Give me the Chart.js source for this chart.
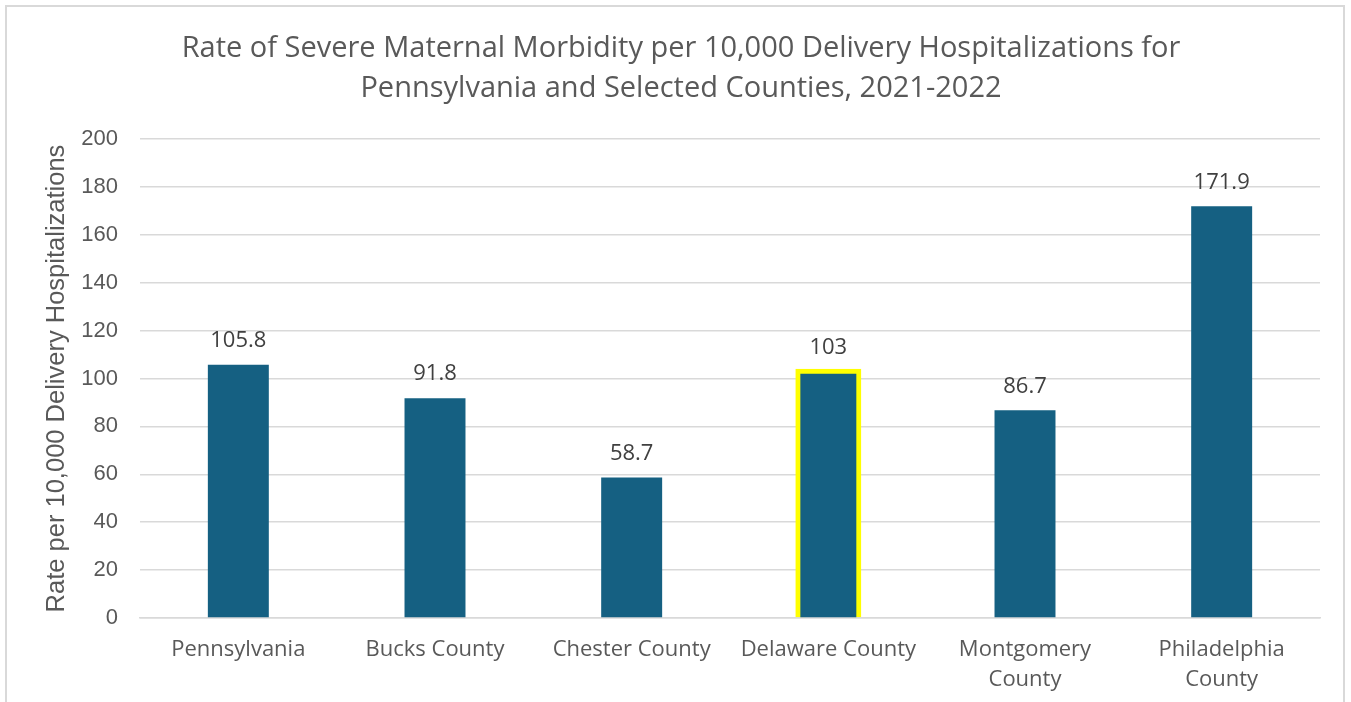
<!DOCTYPE html>
<html>
<head>
<meta charset="utf-8">
<script src="https://cdn.jsdelivr.net/npm/chart.js@4.4.1/dist/chart.umd.min.js"></script>
<style>
  html, body { margin: 0; padding: 0; background: #fff; }
  #frame {
    position: absolute; left: 5px; top: 5px; width: 1340px; height: 720px;
    border: 2px solid #d9d9d9; box-sizing: border-box;
  }
  #wrap { position: absolute; left: 0; top: 0; width: 1351px; height: 702px; }
</style>
</head>
<body>
<div id="frame"></div>
<div id="wrap"><canvas id="smmChart" width="1351" height="702"></canvas></div>
<script>
  const categories = [
    'Pennsylvania',
    'Bucks County',
    'Chester County',
    'Delaware County',
    ['Montgomery', 'County'],
    ['Philadelphia', 'County']
  ];
  const rates = [105.8, 91.8, 58.7, 103, 86.7, 171.9];
  const highlightIndex = 3; // Delaware County gets the yellow outline

  const titleLines = [
    'Rate of Severe Maternal Morbidity per 10,000 Delivery Hospitalizations for',
    'Pennsylvania and Selected Counties, 2021-2022'
  ];
  const yTitle = 'Rate per 10,000 Delivery Hospitalizations';

  const barBlue = '#156082';
  const textGray = '#595959';

  // simple value labels above each bar
  const valueLabels = {
    id: 'valueLabels',
    afterDatasetsDraw(chart) {
      const c = chart.ctx;
      const meta = chart.getDatasetMeta(0);
      c.save();
      c.font = '22px "Open Sans", sans-serif';
      c.fillStyle = '#404040';
      c.textAlign = 'center';
      c.textBaseline = 'middle';
      meta.data.forEach((bar, i) => {
        c.fillText(String(rates[i]), bar.x, bar.y - 24);
      });
      c.restore();
    }
  };

  const ctx = document.getElementById('smmChart').getContext('2d');
  new Chart(ctx, {
    type: 'bar',
    data: {
      labels: categories,
      datasets: [{
        data: rates,
        backgroundColor: barBlue,
        borderColor: c => c.dataIndex === highlightIndex ? '#ffff00' : barBlue,
        borderWidth: c => c.dataIndex === highlightIndex ? 5 : 0,
        inflateAmount: c => c.dataIndex === highlightIndex ? 2.5 : 'auto',
        barPercentage: 0.62,
        categoryPercentage: 0.5
      }]
    },
    options: {
      responsive: false,
      animation: false,
      layout: { padding: { left: 42, right: 31, top: 29, bottom: 0 } },
      plugins: {
        legend: { display: false },
        tooltip: { enabled: false },
        title: {
          display: true,
          text: titleLines,
          color: textGray,
          font: { family: '"Open Sans", sans-serif', size: 29, weight: 'normal', lineHeight: 1.38 },
          padding: { top: 0, bottom: 30 }
        }
      },
      scales: {
        x: {
          afterFit: s => { s.height = 84; },
          grid: { display: false, drawTicks: false },
          border: { color: '#d9d9d9', width: 1.5 },
          ticks: {
            color: textGray,
            font: { family: '"Open Sans", sans-serif', size: 22, lineHeight: 1.36 },
            padding: 17,
            maxRotation: 0,
            autoSkip: false
          }
        },
        y: {
          min: 0,
          max: 200,
          afterFit: s => { s.width = 98; },
          ticks: {
            stepSize: 20,
            color: textGray,
            font: { family: '"Liberation Sans", Arial, sans-serif', size: 22 },
            padding: 22
          },
          grid: { color: '#d9d9d9', lineWidth: 1.5, drawTicks: false },
          border: { display: false },
          title: {
            display: true,
            text: yTitle,
            color: textGray,
            font: { family: '"Liberation Sans", Arial, sans-serif', size: 25.5 },
            padding: { top: 0, bottom: 9 }
          }
        }
      }
    },
    plugins: [valueLabels]
  });
</script>
</body>
</html>
